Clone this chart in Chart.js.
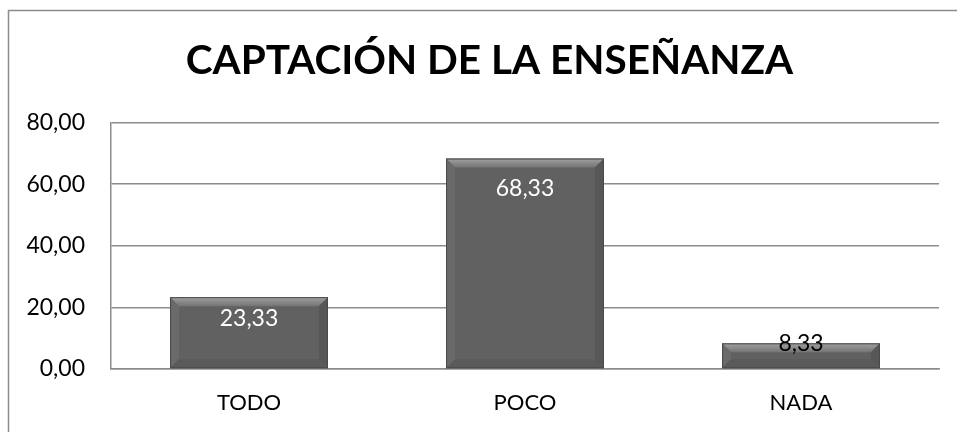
<!DOCTYPE html>
<html>
<head>
<meta charset="utf-8">
<script src="https://cdn.jsdelivr.net/npm/chart.js@4"></script>
<style>
  html, body { margin: 0; padding: 0; background: #fff; overflow: hidden; }
  #wrap { width: 957px; height: 432px; position: relative; }
</style>
</head>
<body>
<div id="wrap"><canvas id="grafico" width="957" height="432"></canvas></div>
<script>
const titulo = "CAPTACIÓN DE LA ENSEÑANZA";
const categorias = ["TODO", "POCO", "NADA"];
const valores = [23.33, 68.33, 8.33];
const ticksY = [0, 20, 40, 60, 80];

const formato = (v) => v.toFixed(2).replace(".", ",");

// borde del gráfico (solo se ve arriba y a la izquierda)
const borde = {
  id: "borde",
  afterLayout(chart) {
    // el título va centrado en el marco, no en el lienzo
    chart.titleBlock.left = 40;
  },
  beforeDraw(chart) {
    const ctx = chart.ctx;
    ctx.save();
    ctx.strokeStyle = "#8c8c8c";
    ctx.lineWidth = 1.5;
    ctx.strokeRect(8.5, 10.5, 2000, 2000);
    ctx.restore();
  },
};

// relieve de las barras + etiquetas
const relieve = {
  id: "relieve",
  afterDatasetsDraw(chart) {
    const ctx = chart.ctx;
    const meta = chart.getDatasetMeta(0);
    meta.data.forEach((bar, i) => {
      const l = bar.x - bar.width / 2;
      const r = bar.x + bar.width / 2;
      const t = bar.y;
      const b = bar.base;
      const d = Math.min(9, (b - t) / 2);
      ctx.save();
      // arriba
      let g = ctx.createLinearGradient(0, t, 0, t + d);
      g.addColorStop(0, "#a0a0a0");
      g.addColorStop(1, "#747474");
      ctx.fillStyle = g;
      ctx.beginPath();
      ctx.moveTo(l, t); ctx.lineTo(r, t); ctx.lineTo(r - d, t + d); ctx.lineTo(l + d, t + d);
      ctx.closePath(); ctx.fill();
      // izquierda
      ctx.fillStyle = "#6a6a6a";
      ctx.beginPath();
      ctx.moveTo(l, t); ctx.lineTo(l + d, t + d); ctx.lineTo(l + d, b - d); ctx.lineTo(l, b);
      ctx.closePath(); ctx.fill();
      // derecha
      ctx.fillStyle = "#575757";
      ctx.beginPath();
      ctx.moveTo(r, t); ctx.lineTo(r - d, t + d); ctx.lineTo(r - d, b - d); ctx.lineTo(r, b);
      ctx.closePath(); ctx.fill();
      // abajo
      ctx.fillStyle = "#5a5a5a";
      ctx.beginPath();
      ctx.moveTo(l, b); ctx.lineTo(l + d, b - d); ctx.lineTo(r - d, b - d); ctx.lineTo(r, b);
      ctx.closePath(); ctx.fill();
      // contorno fino
      ctx.strokeStyle = "#4a4a4a";
      ctx.lineWidth = 1;
      ctx.strokeRect(l + 0.5, t + 0.5, r - l - 1, b - t - 1);

      // etiqueta
      const h = b - t;
      const texto = formato(valores[i]);
      ctx.font = "23px Lato";
      ctx.textAlign = "center";
      ctx.textBaseline = "middle";
      if (h < 40) {
        ctx.fillStyle = "#000";
        ctx.fillText(texto, bar.x, t);
      } else {
        ctx.fillStyle = "#fff";
        ctx.fillText(texto, bar.x, t + Math.min(30, h * 0.3));
      }
      ctx.restore();
    });
  },
};

new Chart(document.getElementById("grafico"), {
  type: "bar",
  data: {
    labels: categorias,
    datasets: [
      {
        data: valores,
        backgroundColor: "#616161",
        borderWidth: 0,
        barPercentage: 0.572,
        categoryPercentage: 1,
      },
    ],
  },
  options: {
    responsive: false,
    animation: false,
    layout: { padding: { left: 0, right: 18, top: 0, bottom: 0 } },
    plugins: {
      legend: { display: false },
      tooltip: { enabled: false },
      title: {
        display: true,
        text: titulo,
        color: "#000",
        font: { family: "Lato", size: 40.5, weight: "bold", lineHeight: 1.2 },
        padding: { top: 37, bottom: 37 },
      },
    },
    scales: {
      x: {
        grid: { display: false, drawTicks: false },
        border: { display: true, color: "#8c8c8c", width: 1.5 },
        ticks: { color: "#000", font: { family: "Lato", size: 22 }, padding: 21 },
        afterFit: (s) => { s.height = 63; },
      },
      y: {
        min: 0,
        max: 80,
        afterBuildTicks: (s) => { s.ticks = ticksY.map((v) => ({ value: v })); },
        grid: { color: "#8c8c8c", lineWidth: 1.5, drawTicks: false },
        border: { display: true, color: "#8c8c8c", width: 1.5 },
        ticks: {
          color: "#000",
          font: { family: "Lato", size: 23 },
          padding: 26,
          callback: (v) => formato(v),
        },
        afterFit: (s) => { s.width = 111; },
      },
    },
  },
  plugins: [borde, relieve],
});
</script>
</body>
</html>
